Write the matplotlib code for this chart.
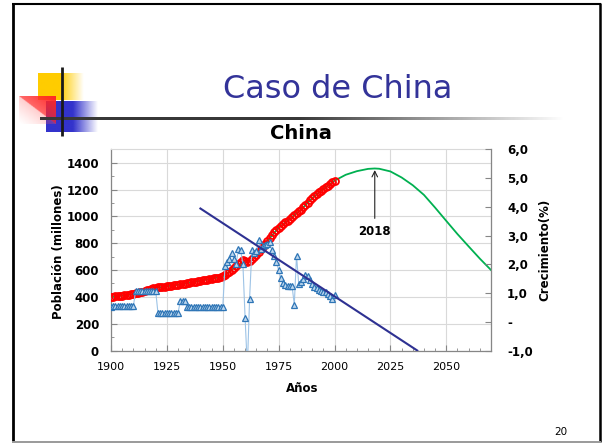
import numpy as np
import matplotlib
matplotlib.use("Agg")
import matplotlib.pyplot as plt
from matplotlib.ticker import MultipleLocator, FuncFormatter

# ---------------- data ----------------
years = list(range(1900, 2001))
population = [400, 402, 404, 406, 408, 410, 412, 414, 416, 418, 420,
              425, 429, 434, 438, 443, 448, 453, 458, 463, 468,
              470, 472, 475, 477, 479, 481, 484, 486, 488, 490,
              493, 496, 499,
              501, 504, 507, 510, 513, 516, 520, 523, 526, 529, 532, 535, 538, 541, 544, 547, 552,
              563, 575, 588, 602, 615, 628, 647, 660, 672, 667,
              660, 665, 682, 698, 715, 735, 755, 775, 796, 818,
              841, 862, 882, 900, 916, 931, 944, 956, 969, 981,
              994, 1009, 1023, 1037, 1051, 1067, 1084, 1102, 1119, 1135,
              1151, 1165, 1178, 1192, 1205, 1218, 1230, 1242, 1253, 1263]
growth = ([0.50] + [0.54] * 10 + [1.07] * 10 + [0.31] * 10 + [0.72] * 3 + [0.51] * 17 +
          [1.93, 2.08, 2.19, 2.39, 2.19, 2.02, 2.54, 2.48, 2.02, 0.12,
           -1.6, 0.80, 2.48, 2.40, 2.45, 2.83, 2.54, 2.63, 2.68, 2.72,
           2.76, 2.48, 2.28, 2.08, 1.79, 1.52, 1.36, 1.29, 1.26, 1.26,
           1.24, 0.60, 2.30, 1.30, 1.38, 1.50, 1.64, 1.58, 1.46, 1.32,
           1.21, 1.16, 1.11, 1.07, 1.05, 1.03, 0.98, 0.90, 0.80, 0.92])
fit_years = [1900, 1910, 1920, 1930, 1940, 1950, 1955, 1960, 1965, 1970, 1975, 1980,
             1985, 1990, 1995, 2000, 2005, 2010, 2015, 2018, 2020, 2025, 2030, 2035,
             2040, 2045, 2050, 2055, 2060, 2065, 2070]
fit_pop = [400, 420, 468, 490, 520, 552, 615, 667, 715, 818, 916, 981,
           1051, 1135, 1205, 1266, 1310, 1337, 1354, 1357, 1355, 1335, 1290, 1232,
           1160, 1065, 966, 868, 776, 685, 600]
trend_years = [1940, 2037]
trend_growth = [3.94, -1.0]
peak_year = 2018
x_ticks = [1900, 1925, 1950, 1975, 2000, 2025, 2050]
left_ticks = [0, 200, 400, 600, 800, 1000, 1200, 1400]
right_ticks = [-1, 0, 1, 2, 3, 4, 5, 6]

# ---------------- figure ----------------
W, H = 604, 444
fig = plt.figure(figsize=(W / 100, H / 100), dpi=100)
fig.patch.set_facecolor("white")

def px(x, y):
    return x / W, 1 - y / H

# decorations layer
deco = fig.add_axes([0, 0, 1, 1])
deco.set_zorder(0)
deco.axis("off")

def hgrad(x0, x1, xs, y0, y1, rgb):
    n = 200
    xx = np.linspace(x0, x1, n)
    a = np.where(xx <= xs, 1.0, np.clip(1 - (xx - xs) / (x1 - xs), 0, 1))
    img = np.zeros((1, n, 4))
    img[..., :3] = rgb
    img[0, :, 3] = a
    deco.imshow(img, extent=(x0, x1, y1, y0), origin="upper", aspect="auto",
                interpolation="bilinear", zorder=1)

hgrad(38, 84, 60, 74, 100, (1.0, 0.80, 0.0))
hgrad(46, 98, 73, 101, 132, (0.20, 0.20, 0.80))
# red triangle square
hh, ww = 60, 80
u = np.linspace(0, 1, ww)[None, :]
v = np.linspace(0, 1, hh)[:, None]
above = u > v
alpha = np.where(above, 0.70 + 0.3 * (u - v), 0.30 * np.clip(1 - (v - u), 0, 1) ** 1.2)
img = np.zeros((hh, ww, 4))
img[..., 0] = 1.0
img[..., 1] = np.where(above, 0.15, 0.35)
img[..., 2] = np.where(above, 0.15, 0.35)
img[..., 3] = alpha
deco.imshow(img, extent=(19, 56, 124, 96), origin="upper", aspect="auto",
            interpolation="bilinear", zorder=2)
# horizontal fading rule
n = 400
xx = np.linspace(40, 565, n)
a = np.where(xx <= 300, 1.0, np.clip(1 - (xx - 300) / (565 - 300), 0, 1))
img = np.zeros((1, n, 4))
img[..., :3] = 0.22
img[0, :, 3] = a
deco.imshow(img, extent=(40, 565, 120.3, 117.8), origin="upper", aspect="auto",
            interpolation="bilinear", zorder=3)
deco.plot([61.5, 61.5], [67, 136], color="#1a1a1a", lw=2.0, zorder=4, solid_capstyle="butt")
# slide frame
deco.plot([12.9, 12.9], [2.7, 442], color="black", lw=2.0, solid_capstyle="butt")
deco.plot([12, 600.7], [3.7, 3.7], color="black", lw=1.5, solid_capstyle="butt")
deco.plot([599.5, 599.5], [2.7, 442], color="black", lw=1.8, solid_capstyle="butt")
deco.plot([12, 600.7], [441.7, 441.7], color="#9a9a9a", lw=1.4, solid_capstyle="butt")
deco.set_xlim(0, W)
deco.set_ylim(H, 0)

# ---------------- chart ----------------
l, b = px(111, 350.5)
r, t = px(491, 149.3)
ax = fig.add_axes([l, b, r - l, t - b])
ax.set_zorder(1)
ax.set_xlim(1900, 2070)
ax.set_ylim(0, 1500)

grid_c = "#D9D9D9"
spine_c = "#868686"
ax.set_xticks(x_ticks)
ax.xaxis.set_minor_locator(MultipleLocator(5))
ax.set_yticks(left_ticks)
ax.yaxis.set_minor_locator(MultipleLocator(100))
ax.grid(True, which="major", color=grid_c, lw=0.8)
ax.set_axisbelow(True)
for s in ["left", "bottom"]:
    ax.spines[s].set_color(spine_c)
    ax.spines[s].set_linewidth(0.9)
for s in ["top", "right"]:
    ax.spines[s].set_color(grid_c)
    ax.spines[s].set_linewidth(0.8)
ax.tick_params(axis="x", which="major", direction="in", length=4, color=spine_c,
               labelsize=8, pad=8)
ax.tick_params(axis="x", which="minor", direction="in", length=2.5, color=spine_c)
ax.tick_params(axis="y", which="major", direction="in", length=4, color=spine_c,
               labelsize=8.5, pad=8.6)
ax.tick_params(axis="y", which="minor", direction="in", length=2.5, color=spine_c)
for lab in ax.get_yticklabels():
    lab.set_fontweight("bold")

ax.plot(fit_years, fit_pop, color="#00B050", lw=1.3, zorder=2)
ax.plot(years, population, linestyle="none", marker="o", markersize=5,
        markerfacecolor="none", markeredgecolor="#FF0000", markeredgewidth=1.3, zorder=3)

peak_val = fit_pop[fit_years.index(peak_year)]
ax.annotate("", xy=(peak_year, peak_val - 12), xytext=(peak_year, 985),
            arrowprops=dict(arrowstyle="->", color="#222222", lw=0.8, shrinkA=0, shrinkB=0),
            zorder=4)
ax.text(peak_year, 886, str(peak_year), ha="center", va="center",
        fontsize=8.5, fontweight="bold")

ax2 = ax.twinx()
ax2.set_zorder(2)
ax2.set_ylim(-1, 6)
ax2.set_yticks(right_ticks)
ax2.yaxis.set_major_formatter(FuncFormatter(
    lambda v, p: "-" if abs(v) < 1e-9 else f"{v:.1f}".replace(".", ",")))
for s in ["left", "top", "bottom"]:
    ax2.spines[s].set_visible(False)
ax2.spines["right"].set_color(spine_c)
ax2.spines["right"].set_linewidth(0.9)
ax2.tick_params(axis="y", direction="in", length=4, color=spine_c, labelsize=8.5, pad=11.5)
for lab in ax2.get_yticklabels():
    lab.set_fontweight("bold")

ax2.plot(years, growth, color="#9DC3E6", lw=0.8, marker="^", markersize=3.8,
         markerfacecolor="#BDD7EE", markeredgecolor="#2E75B6", markeredgewidth=0.9, zorder=2)
ax2.plot(trend_years, trend_growth, color="#2E3192", lw=1.5, zorder=3)

# ---------------- texts ----------------
fig.text(*px(338, 98.3), "Caso de China", ha="center", va="baseline",
         fontsize=23, color="#333399")
fig.text(*px(301, 139.3), "China", ha="center", va="baseline",
         fontsize=14, fontweight="bold")
fig.text(*px(59, 252), "Población (millones)", rotation=90, ha="center", va="center",
         fontsize=8.5, fontweight="bold")
fig.text(*px(545, 250), "Crecimiento(%)", rotation=90, ha="center", va="center",
         fontsize=8.5, fontweight="bold")
fig.text(*px(302, 388), "Años", ha="center", va="center", fontsize=8.5, fontweight="bold")
fig.text(*px(561, 431.5), "20", ha="center", va="center", fontsize=7.5)

fig.savefig("out.png", dpi=100, facecolor="white")
